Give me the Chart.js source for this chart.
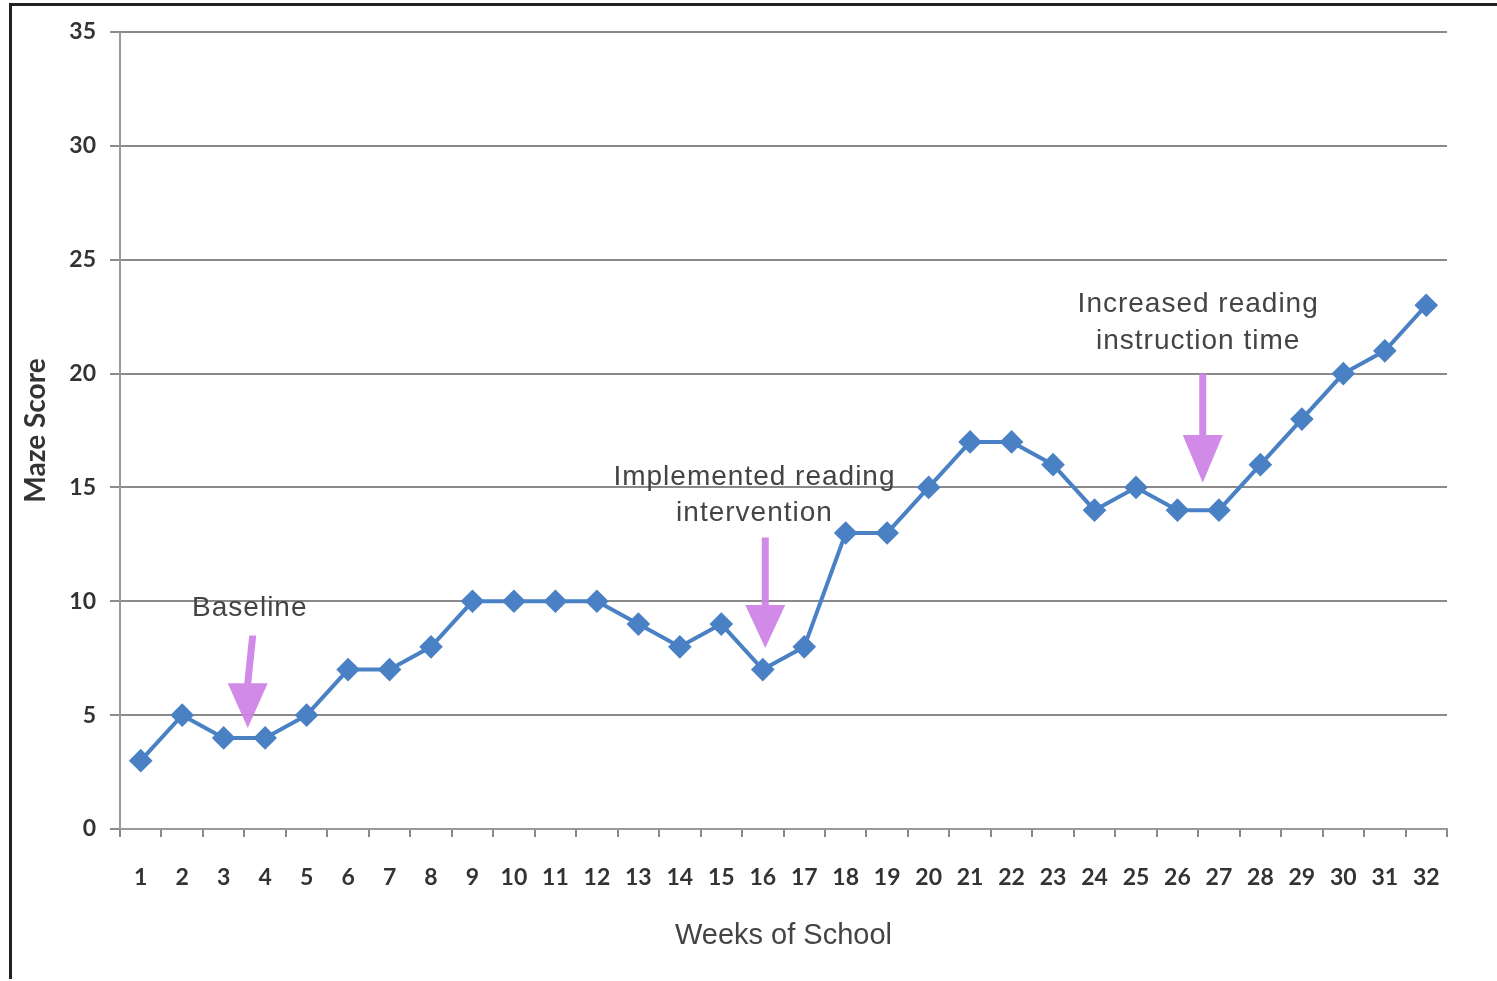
<!DOCTYPE html>
<html>
<head>
<meta charset="utf-8">
<script src="https://cdn.jsdelivr.net/npm/chart.js@4.4.1/dist/chart.umd.min.js"></script>
<style>
html,body{margin:0;padding:0;background:#fff;}
#wrap{position:relative;width:1497px;height:981px;}
</style>
</head>
<body>
<div id="wrap"><canvas id="c" width="1497" height="981"></canvas></div>
<script>
const weeks = ['1','2','3','4','5','6','7','8','9','10','11','12','13','14','15','16','17','18','19','20','21','22','23','24','25','26','27','28','29','30','31','32'];
const mazeScores = [3,5,4,4,5,7,7,8,10,10,10,10,9,8,9,7,8,13,13,15,17,17,16,14,15,14,14,16,18,20,21,23];
const yMin = 0, yMax = 35, yStep = 5;

// annotations (x as fractional week index, y in score units)
const noteText = [['Baseline'], ['Implemented reading','intervention'], ['Increased reading','instruction time']];
const noteTextX = [2.63, 14.8, 25.5];
const noteTextY = [[9.7], [15.45, 13.88], [23.05, 21.4]];
const arrowX = [2.58, 15.06, 25.61];
const arrowTop = [8.5, 12.8, 20.0];
const arrowHeadStart = [6.4, 9.84, 17.3];
const arrowTip = [4.44, 7.95, 15.2];

const framePlugin = {
  id: 'frame',
  beforeDraw(chart){
    const ctx = chart.ctx;
    ctx.save();
    ctx.fillStyle = '#fff';
    ctx.fillRect(0,0,chart.width,chart.height);
    ctx.fillStyle = '#222';
    ctx.fillRect(9,3,chart.width-9,3);
    ctx.fillRect(9,3,3,976);
    ctx.restore();
  }
};

const notesPlugin = {
  id: 'notes',
  afterDatasetsDraw(chart){
    const ctx = chart.ctx;
    const xs = chart.scales.x, ys = chart.scales.y;
    ctx.save();
    for(let i=0;i<arrowX.length;i++){
      const x = xs.getPixelForValue(arrowX[i]);
      const top = ys.getPixelForValue(arrowTop[i]);
      const hs = ys.getPixelForValue(arrowHeadStart[i]);
      const tip = ys.getPixelForValue(arrowTip[i]);
      const slant = i===0 ? 5 : 0;
      ctx.fillStyle = 'rgba(206,128,230,0.92)';
      ctx.beginPath();
      ctx.moveTo(x+slant-3.5, top);
      ctx.lineTo(x+slant+3.5, top);
      ctx.lineTo(x+3.5, hs);
      ctx.lineTo(x+20, hs);
      ctx.lineTo(x, tip);
      ctx.lineTo(x-20, hs);
      ctx.lineTo(x-3.5, hs);
      ctx.closePath();
      ctx.fill();
    }
    ctx.fillStyle = '#444';
    ctx.font = '28px "Liberation Sans", Arial, sans-serif';
    ctx.letterSpacing = '1px';
    ctx.textAlign = 'center';
    ctx.textBaseline = 'middle';
    for(let i=0;i<noteText.length;i++){
      const tx = xs.getPixelForValue(noteTextX[i]);
      noteText[i].forEach((line,j)=>{
        ctx.fillText(line, tx, ys.getPixelForValue(noteTextY[i][j]));
      });
    }
    ctx.restore();
  }
};

new Chart(document.getElementById('c'), {
  type: 'line',
  data: {
    labels: weeks,
    datasets: [{
      data: mazeScores,
      borderColor: '#4a80c4',
      backgroundColor: '#4a80c4',
      borderWidth: 4,
      pointStyle: 'rectRot',
      pointRadius: 9,
      pointHoverRadius: 9,
      tension: 0
    }]
  },
  options: {
    responsive: false,
    animation: false,
    events: [],
    layout: { padding: { left: 15, right: 50, top: 32, bottom: 12 } },
    plugins: { legend: { display: false }, tooltip: { enabled: false } },
    scales: {
      x: {
        offset: true,
        grid: { display: true, drawOnChartArea: false, offset: true, color: '#888', lineWidth: 2, tickLength: 8 },
        border: { display: true, color: '#999', width: 2 },
        ticks: { color: '#333', font: { family: 'Lato, "Open Sans", sans-serif', size: 23, weight: 'bold' }, padding: 27, maxRotation: 0, autoSkip: false },
        title: { display: true, text: 'Weeks of School', color: '#444', font: { family: '"Liberation Sans", Arial, sans-serif', size: 29 }, padding: { top: 4, bottom: 16 } },
        afterFit(s){ s.height = 140; }
      },
      y: {
        min: yMin, max: yMax,
        grid: { color: '#8a8a8a', lineWidth: 2, tickLength: 10 },
        border: { display: true, color: '#999', width: 2 },
        ticks: { stepSize: yStep, color: '#333', font: { family: 'Lato, "Open Sans", sans-serif', size: 23, weight: 'bold' }, padding: 14 },
        title: { display: true, text: 'Maze Score', color: '#333', font: { family: 'Lato, "Open Sans", sans-serif', size: 28, weight: 'bold' }, padding: { bottom: 18 } },
        afterFit(s){ s.width = 105; }
      }
    }
  },
  plugins: [framePlugin, notesPlugin]
});
</script>
</body>
</html>
